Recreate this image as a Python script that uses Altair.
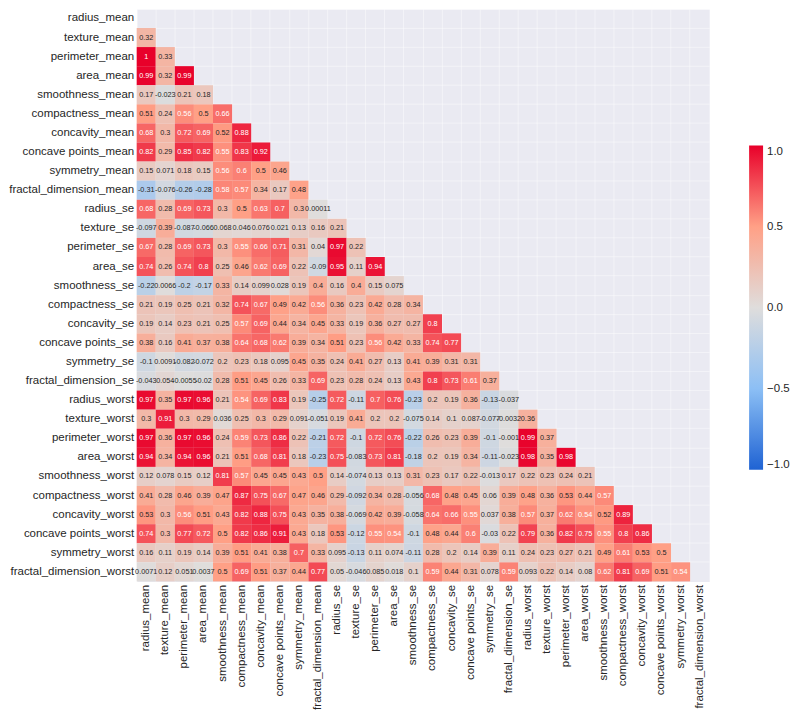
import altair as alt
import pandas as pd

features = [
    "radius_mean", "texture_mean", "perimeter_mean", "area_mean", "smoothness_mean",
    "compactness_mean", "concavity_mean", "concave points_mean", "symmetry_mean",
    "fractal_dimension_mean", "radius_se", "texture_se", "perimeter_se", "area_se",
    "smoothness_se", "compactness_se", "concavity_se", "concave points_se", "symmetry_se",
    "fractal_dimension_se", "radius_worst", "texture_worst", "perimeter_worst", "area_worst",
    "smoothness_worst", "compactness_worst", "concavity_worst", "concave points_worst",
    "symmetry_worst", "fractal_dimension_worst",
]

# lower-triangle correlation values, one list per row (row i has i values)
row_texture_mean = [0.32]
row_perimeter_mean = [1.0, 0.33]
row_area_mean = [0.99, 0.32, 0.99]
row_smoothness_mean = [0.17, -0.023, 0.21, 0.18]
row_compactness_mean = [0.51, 0.24, 0.56, 0.5, 0.66]
row_concavity_mean = [0.68, 0.3, 0.72, 0.69, 0.52, 0.88]
row_concave_points_mean = [0.82, 0.29, 0.85, 0.82, 0.55, 0.83, 0.92]
row_symmetry_mean = [0.15, 0.071, 0.18, 0.15, 0.56, 0.6, 0.5, 0.46]
row_fractal_dimension_mean = [-0.31, -0.076, -0.26, -0.28, 0.58, 0.57, 0.34, 0.17, 0.48]
row_radius_se = [0.68, 0.28, 0.69, 0.73, 0.3, 0.5, 0.63, 0.7, 0.3, 0.00011]
row_texture_se = [-0.097, 0.39, -0.087, -0.066, 0.068, 0.046, 0.076, 0.021, 0.13, 0.16, 0.21]
row_perimeter_se = [0.67, 0.28, 0.69, 0.73, 0.3, 0.55, 0.66, 0.71, 0.31, 0.04, 0.97, 0.22]
row_area_se = [0.74, 0.26, 0.74, 0.8, 0.25, 0.46, 0.62, 0.69, 0.22, -0.09, 0.95, 0.11, 0.94]
row_smoothness_se = [-0.22, 0.0066, -0.2, -0.17, 0.33, 0.14, 0.099, 0.028, 0.19, 0.4,
                     0.16, 0.4, 0.15, 0.075]
row_compactness_se = [0.21, 0.19, 0.25, 0.21, 0.32, 0.74, 0.67, 0.49, 0.42, 0.56,
                      0.36, 0.23, 0.42, 0.28, 0.34]
row_concavity_se = [0.19, 0.14, 0.23, 0.21, 0.25, 0.57, 0.69, 0.44, 0.34, 0.45,
                    0.33, 0.19, 0.36, 0.27, 0.27, 0.8]
row_concave_points_se = [0.38, 0.16, 0.41, 0.37, 0.38, 0.64, 0.68, 0.62, 0.39, 0.34,
                         0.51, 0.23, 0.56, 0.42, 0.33, 0.74, 0.77]
row_symmetry_se = [-0.1, 0.0091, -0.082, -0.072, 0.2, 0.23, 0.18, 0.095, 0.45, 0.35,
                   0.24, 0.41, 0.27, 0.13, 0.41, 0.39, 0.31, 0.31]
row_fractal_dimension_se = [-0.043, 0.054, -0.0055, -0.02, 0.28, 0.51, 0.45, 0.26, 0.33, 0.69,
                            0.23, 0.28, 0.24, 0.13, 0.43, 0.8, 0.73, 0.61, 0.37]
row_radius_worst = [0.97, 0.35, 0.97, 0.96, 0.21, 0.54, 0.69, 0.83, 0.19, -0.25,
                    0.72, -0.11, 0.7, 0.76, -0.23, 0.2, 0.19, 0.36, -0.13, -0.037]
row_texture_worst = [0.3, 0.91, 0.3, 0.29, 0.036, 0.25, 0.3, 0.29, 0.091, -0.051,
                     0.19, 0.41, 0.2, 0.2, -0.075, 0.14, 0.1, 0.087, -0.077, -0.0032,
                     0.36]
row_perimeter_worst = [0.97, 0.36, 0.97, 0.96, 0.24, 0.59, 0.73, 0.86, 0.22, -0.21,
                       0.72, -0.1, 0.72, 0.76, -0.22, 0.26, 0.23, 0.39, -0.1, -0.001,
                       0.99, 0.37]
row_area_worst = [0.94, 0.34, 0.94, 0.96, 0.21, 0.51, 0.68, 0.81, 0.18, -0.23,
                  0.75, -0.083, 0.73, 0.81, -0.18, 0.2, 0.19, 0.34, -0.11, -0.023,
                  0.98, 0.35, 0.98]
row_smoothness_worst = [0.12, 0.078, 0.15, 0.12, 0.81, 0.57, 0.45, 0.45, 0.43, 0.5,
                        0.14, -0.074, 0.13, 0.13, 0.31, 0.23, 0.17, 0.22, -0.013, 0.17,
                        0.22, 0.23, 0.24, 0.21]
row_compactness_worst = [0.41, 0.28, 0.46, 0.39, 0.47, 0.87, 0.75, 0.67, 0.47, 0.46,
                         0.29, -0.092, 0.34, 0.28, -0.056, 0.68, 0.48, 0.45, 0.06, 0.39,
                         0.48, 0.36, 0.53, 0.44, 0.57]
row_concavity_worst = [0.53, 0.3, 0.56, 0.51, 0.43, 0.82, 0.88, 0.75, 0.43, 0.35,
                       0.38, -0.069, 0.42, 0.39, -0.058, 0.64, 0.66, 0.55, 0.037, 0.38,
                       0.57, 0.37, 0.62, 0.54, 0.52, 0.89]
row_concave_points_worst = [0.74, 0.3, 0.77, 0.72, 0.5, 0.82, 0.86, 0.91, 0.43, 0.18,
                            0.53, -0.12, 0.55, 0.54, -0.1, 0.48, 0.44, 0.6, -0.03, 0.22,
                            0.79, 0.36, 0.82, 0.75, 0.55, 0.8, 0.86]
row_symmetry_worst = [0.16, 0.11, 0.19, 0.14, 0.39, 0.51, 0.41, 0.38, 0.7, 0.33,
                      0.095, -0.13, 0.11, 0.074, -0.11, 0.28, 0.2, 0.14, 0.39, 0.11,
                      0.24, 0.23, 0.27, 0.21, 0.49, 0.61, 0.53, 0.5]
row_fractal_dimension_worst = [0.0071, 0.12, 0.051, 0.0037, 0.5, 0.69, 0.51, 0.37, 0.44, 0.77,
                               0.05, -0.046, 0.085, 0.018, 0.1, 0.59, 0.44, 0.31, 0.078, 0.59,
                               0.093, 0.22, 0.14, 0.08, 0.62, 0.81, 0.69, 0.51, 0.54]

rows = [
    row_texture_mean, row_perimeter_mean, row_area_mean, row_smoothness_mean,
    row_compactness_mean, row_concavity_mean, row_concave_points_mean, row_symmetry_mean,
    row_fractal_dimension_mean, row_radius_se, row_texture_se, row_perimeter_se, row_area_se,
    row_smoothness_se, row_compactness_se, row_concavity_se, row_concave_points_se,
    row_symmetry_se, row_fractal_dimension_se, row_radius_worst, row_texture_worst,
    row_perimeter_worst, row_area_worst, row_smoothness_worst, row_compactness_worst,
    row_concavity_worst, row_concave_points_worst, row_symmetry_worst,
    row_fractal_dimension_worst,
]

records = []
for i, row in enumerate(rows, start=1):
    for j, v in enumerate(row):
        records.append({"x": features[j], "y": features[i], "v": v, "label": format(v, ".2g")})
df = pd.DataFrame(records)

FONT = "Liberation Sans"

color_scale = alt.Scale(
    domain=[-1, -0.5, 0, 0.5, 1],
    range=["#1f63d3", "#8cbff5", "#dfdddc", "#ffa086", "#e8002a"],
    interpolate="rgb",
)

x_enc = alt.X("x:N", sort=features, scale=alt.Scale(domain=features), title=None,
              axis=alt.Axis(labelAngle=-90, bandPosition=0, grid=True))
y_enc = alt.Y("y:N", sort=features, scale=alt.Scale(domain=features), title=None,
              axis=alt.Axis(bandPosition=0, grid=True))

base = alt.Chart(df)

cells = base.mark_rect().encode(
    x=x_enc,
    y=y_enc,
    color=alt.Color(
        "v:Q",
        scale=color_scale,
        legend=alt.Legend(
            title=None,
            orient="none",
            legendX=614,
            legendY=137,
            direction="vertical",
            gradientLength=325,
            gradientThickness=14,
            gradientStrokeWidth=0,
            values=[-1, -0.5, 0, 0.5, 1],
            format=".1f",
            labelFont=FONT,
            labelFontSize=11.5,
            labelColor="#262626",
            labelOverlap=False,
            labelOffset=4,
        ),
    ),
)

texts = base.mark_text(font=FONT, fontSize=7.3).encode(
    x=alt.X("x:N", sort=features, scale=alt.Scale(domain=features)),
    y=alt.Y("y:N", sort=features, scale=alt.Scale(domain=features)),
    text="label:N",
    color=alt.condition("abs(datum.v) > 0.535", alt.value("white"), alt.value("#262626")),
)

chart = (
    alt.layer(cells, texts)
    .properties(width=574, height=574, padding={"left": 0, "top": 0, "right": 0, "bottom": 0})
    .configure_view(fill="#eaeaf2", stroke="transparent")
    .configure_axis(
        labelFont=FONT,
        labelFontSize=11.5,
        labelColor="#262626",
        labelPadding=3,
        ticks=False,
        domain=False,
        gridColor="white",
        gridOpacity=0.45,
        gridWidth=1,
        zindex=1,
    )
)

chart.save("out.html", embed_options={"renderer": "svg", "actions": False})
